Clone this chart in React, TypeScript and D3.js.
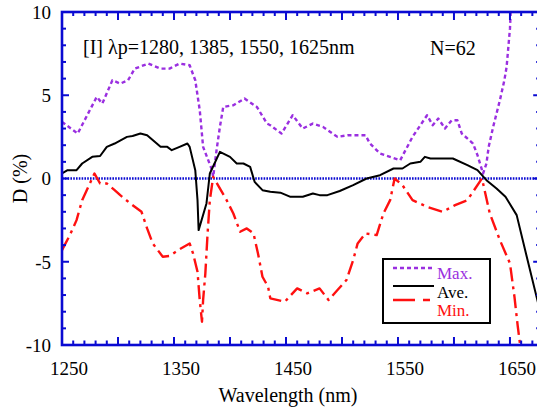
import React from 'react';
import * as d3 from 'd3';

const W = 537;
const H = 410;

// Max. (purple dotted)
const maxNm = [1250, 1264, 1281, 1286, 1295, 1302, 1309, 1315, 1327, 1338, 1346, 1355, 1364, 1369, 1373, 1376, 1384, 1385, 1388, 1391, 1394, 1403, 1413, 1424, 1433, 1436, 1446, 1456, 1465, 1474, 1483, 1496, 1505, 1521, 1525, 1534, 1552, 1563, 1576, 1581, 1586, 1592, 1598, 1603, 1607, 1617, 1621, 1626, 1629, 1631, 1635, 1641, 1645, 1647, 1650, 1651];
const maxD = [3.4, 2.7, 4.9, 4.5, 5.9, 5.7, 5.9, 6.6, 6.9, 6.6, 6.6, 6.9, 6.8, 5.9, 4.1, 1.9, 0.5, 0.1, 1.7, 3.1, 4.3, 4.4, 4.8, 4.3, 3.3, 3.2, 2.7, 3.8, 3.0, 3.3, 3.1, 2.5, 2.6, 2.6, 2.1, 1.5, 1.1, 2.5, 3.8, 3.2, 3.6, 3.0, 3.5, 3.5, 2.7, 2.1, 1.4, 0.3, 0.9, 1.9, 3.1, 4.7, 5.9, 6.7, 9.0, 10.5];

// Ave. (black solid)
const aveNm = [1250, 1255, 1263, 1268, 1277, 1284, 1290, 1297, 1308, 1313, 1320, 1326, 1338, 1344, 1348, 1355, 1362, 1364, 1369, 1371, 1372, 1379, 1382, 1391, 1400, 1406, 1412, 1418, 1422, 1429, 1436, 1445, 1454, 1465, 1474, 1480, 1487, 1498, 1510, 1522, 1534, 1546, 1554, 1561, 1570, 1574, 1579, 1599, 1612, 1621, 1629, 1638, 1646, 1656, 1665, 1677];
const aveD = [0.3, 0.5, 0.5, 0.9, 1.3, 1.35, 1.9, 2.1, 2.5, 2.55, 2.7, 2.6, 1.9, 1.9, 1.7, 1.9, 2.1, 1.9, 0.5, -1.3, -3.1, -1.5, 0.3, 1.6, 1.3, 0.9, 0.9, 0.7, -0.2, -0.7, -0.8, -0.85, -1.1, -1.1, -0.9, -1.0, -1.0, -0.75, -0.4, 0, 0.2, 0.6, 0.6, 0.9, 1.0, 1.3, 1.2, 1.2, 0.8, 0.5, -0.1, -0.6, -1.1, -2.2, -4.7, -8.0];

// Min. (red dash-dot)
const minNm = [1250, 1257, 1263, 1268, 1279, 1284, 1290, 1297, 1302, 1311, 1321, 1326, 1331, 1340, 1346, 1355, 1364, 1367, 1371, 1373, 1375, 1376, 1378, 1380, 1382, 1385, 1397, 1403, 1409, 1415, 1421, 1425, 1429, 1434, 1436, 1449, 1460, 1469, 1480, 1488, 1496, 1504, 1510, 1514, 1521, 1531, 1537, 1543, 1547, 1554, 1563, 1576, 1590, 1601, 1612, 1625, 1632, 1641, 1650, 1654, 1657, 1660];
const minD = [-4.3, -3.4, -2.5, -1.3, 0.3, -0.3, -0.3, -0.7, -1.0, -1.5, -2.0, -3.0, -3.9, -4.7, -4.65, -4.25, -3.9, -4.5, -5.6, -7.3, -8.6, -7.3, -5.7, -3.3, -1.3, 0.1, -1.3, -2.1, -3.2, -3.0, -3.3, -4.5, -5.9, -6.5, -7.2, -7.4, -6.6, -6.9, -6.6, -7.3, -6.7, -6.1, -4.9, -3.9, -3.3, -3.4, -2.1, -1.3, 0, -0.4, -1.3, -1.7, -2.0, -1.6, -1.3, 0, -2.1, -3.7, -5.1, -7.1, -8.9, -10.5];

const xTickLabels = [1250, 1350, 1450, 1550, 1650];
const yTickLabels = [-10, -5, 0, 5, 10];

const BLUE = '#0a0ad2';
const PURPLE = '#9a2fe0';
const RED = '#ff1010';
const SERIF = 'Liberation Serif';

const x = d3.scaleLinear().domain([1250, 1677]).range([62, 540.2]);
const y = d3.scaleLinear().domain([-10, 10]).range([345, 12]);
const [x0, x1] = x.range();
const [y0, y1] = y.range();

const line = d3.line()
  .x(d => x(d[0]))
  .y(d => y(d[1]));

const series = [
  { key: 'max', nm: maxNm, d: maxD, color: PURPLE, dash: '4,3', width: 2.4 },
  { key: 'min', nm: minNm, d: minD, color: RED, dash: '14,5,3,5', width: 2.4 },
  { key: 'ave', nm: aveNm, d: aveD, color: '#000', dash: undefined, width: 2 },
];

const legendItems = [
  { label: 'Max.', color: PURPLE, dash: '4,3', width: 2.4, ly: 268, ty: 279 },
  { label: 'Ave.', color: '#000', dash: undefined, width: 2, ly: 286, ty: 297.5 },
  { label: 'Min.', color: RED, dash: '22,8,7,5', width: 2.4, ly: 300, ty: 316 },
];

const App = () => {
  const xTicks = d3.range(1250, 1677, 10);
  const yTicks = d3.range(-10, 10.1, 1);

  return (
    <svg width={W} height={H} style={{ position: 'absolute', left: 0, top: 0 }}>
      <rect width={W} height={H} fill="#fff" />
      <defs>
        <clipPath id="plot-clip">
          <rect x={x0} y={y1} width={x1 - x0} height={y0 - y1} />
        </clipPath>
      </defs>

      {/* zero line */}
      <line x1={x0} x2={x1} y1={y(0)} y2={y(0)} stroke={BLUE} strokeWidth={2.4} strokeDasharray="1.6,1.2" />

      <g clipPath="url(#plot-clip)">
        {series.map(s => (
          <path
            key={s.key}
            d={line(s.nm.map((v, i) => [v, s.d[i]]))}
            fill="none"
            stroke={s.color}
            strokeWidth={s.width}
            strokeLinejoin="round"
            strokeDasharray={s.dash}
          />
        ))}
      </g>

      {/* ticks */}
      <g stroke={BLUE} strokeWidth={2}>
        {xTicks.map(v => {
          const major = v % 50 === 0;
          return (
            <g key={'x' + v}>
              <line x1={x(v)} x2={x(v)} y1={y0} y2={y0 - (major ? 8 : 4.5)} />
              <line x1={x(v)} x2={x(v)} y1={y1} y2={y1 + (major ? 8 : 4)} />
            </g>
          );
        })}
        {yTicks.map(v => {
          const len = v % 5 === 0 ? 7 : 4;
          return (
            <g key={'y' + v}>
              <line x1={x0} x2={x0 + len} y1={y(v)} y2={y(v)} />
              <line x1={x1} x2={x1 - len} y1={y(v)} y2={y(v)} />
            </g>
          );
        })}
      </g>

      {/* frame */}
      <rect x={x0} y={y1} width={x1 - x0} height={y0 - y1} fill="none" stroke={BLUE} strokeWidth={2.6} />

      <g fontFamily={SERIF} fill="#000">
        {xTickLabels.map(v => (
          <text key={v} x={x(v)} dx={7} y={375} textAnchor="middle" fontSize={19}>{v}</text>
        ))}
        {yTickLabels.map(v => (
          <text key={v} x={51} y={y(v)} dy="0.36em" textAnchor="end" fontSize={19}>{v}</text>
        ))}

        <text x={288} y={402} textAnchor="middle" fontSize={20}>Wavelength (nm)</text>
        <text transform={`translate(27,${y(0)}) rotate(-90)`} textAnchor="middle" fontSize={20}>D (%)</text>

        <text x={83} y={54} fontSize={20}>[I] λp=1280, 1385, 1550, 1625nm</text>
        <text x={430} y={55} fontSize={20}>N=62</text>
      </g>

      {/* legend */}
      <g>
        <rect x={383} y={259} width={107} height={64} fill="#fff" stroke="#000" strokeWidth={2} />
        {legendItems.map(it => (
          <g key={it.label}>
            <line x1={393} x2={434} y1={it.ly} y2={it.ly} stroke={it.color} strokeWidth={it.width} strokeDasharray={it.dash} />
            <text x={437} y={it.ty} fill={it.color} fontFamily={SERIF} fontSize={17}>{it.label}</text>
          </g>
        ))}
      </g>
    </svg>
  );
};

export default App;
